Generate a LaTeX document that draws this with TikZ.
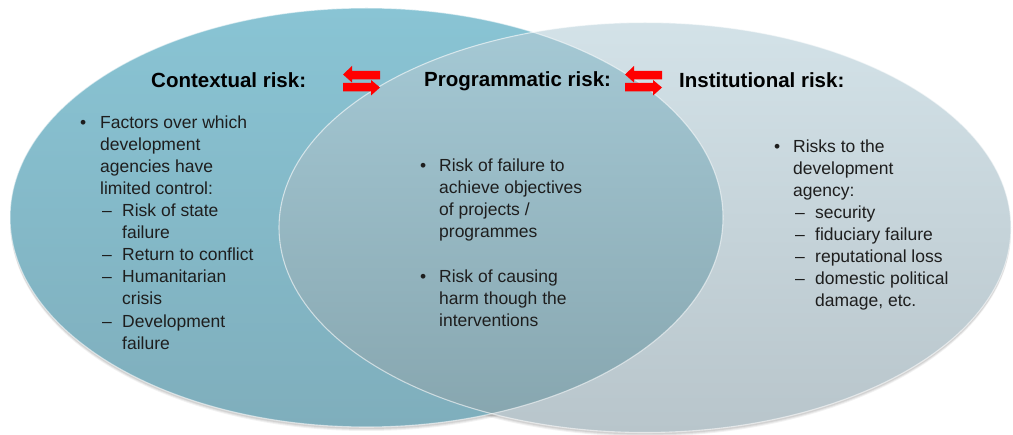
\documentclass[tikz,border=0pt]{standalone}
\usepackage{fontspec}
\setmainfont{Liberation Sans}
\definecolor{leftTop}{HTML}{89C4D4}
\definecolor{leftBot}{HTML}{7FAEBC}
\definecolor{rightTop}{HTML}{D3E2E8}
\definecolor{rightBot}{HTML}{B8C5CB}
\definecolor{ovTop}{HTML}{A5C9D5}
\definecolor{ovBot}{HTML}{86A5AE}
\definecolor{bodygray}{HTML}{1E1E1E}
\definecolor{arrowred}{HTML}{FF0000}
\tikzset{
  heading/.style={anchor=base west, inner sep=0pt, font=\fontsize{20.5}{24}\selectfont\bfseries, text=black},
  bodyline/.style={anchor=base west, inner sep=0pt, font=\fontsize{17.5}{22}\selectfont, text=bodygray},
  bulletmark/.style={anchor=base west, inner sep=0pt, font=\fontsize{17.5}{22}\selectfont, text=bodygray},
  redarrow/.style={fill=arrowred, draw=none},
  rim/.style={draw=white, draw opacity=0.55, line width=1.1pt}
}
\begin{document}
\begin{tikzpicture}[x=1pt,y=-1pt]
\useasboundingbox (0,0) rectangle (1013,435);
\fill[white] (0,0) rectangle (1013,435);
% soft shadows
\foreach \d/\o in {4/0.05,3/0.06,2/0.07}{
  \fill[black,opacity=\o] (366.5,217.5+\d) ellipse [x radius=356.5pt, y radius=209.5pt];
  \fill[black,opacity=\o] (645,227.5+\d) ellipse [x radius=366pt, y radius=205pt];
}
% left ellipse (contextual)
\shade[top color=leftTop, bottom color=leftBot] (366.5,217.5) ellipse [x radius=356.5pt, y radius=209.5pt];
% right ellipse (institutional)
\shade[top color=rightTop, bottom color=rightBot] (645,227.5) ellipse [x radius=366pt, y radius=205pt];
% overlap (programmatic)
\begin{scope}
  \clip (366.5,217.5) ellipse [x radius=356.5pt, y radius=209.5pt];
  \shade[top color=ovTop, bottom color=ovBot] (645,227.5) ellipse [x radius=366pt, y radius=205pt];
\end{scope}
% rims
\draw[rim] (366.5,217.5) ellipse [x radius=356.5pt, y radius=209.5pt];
\draw[rim] (645,227.5) ellipse [x radius=366pt, y radius=205pt];

% headings
\node[heading] (ctx) at (151,88) {Contextual risk:};
\node[heading] (prog) at (424,87) {Programmatic risk:};
\node[heading] (inst) at (679,88) {Institutional risk:};

% double arrows
\foreach \ax in {343,625}{
  % upper arrow pointing left
  \fill[redarrow] (\ax,74.5) -- (\ax+9,66) -- (\ax+9,71) -- (\ax+37,71) -- (\ax+37,79.5) -- (\ax+9,79.5) -- (\ax+9,82.5) -- cycle;
  % lower arrow pointing right
  \fill[redarrow] (\ax+37,87.5) -- (\ax+28,80) -- (\ax+28,83) -- (\ax,83) -- (\ax,91.5) -- (\ax+28,91.5) -- (\ax+28,95.5) -- cycle;
}

% contextual body
\node[bulletmark] (cb1) at (80,129) {•};
\node[bodyline] (c1) at (100,129) {Factors over which};
\node[bodyline] (c2) at (100,151) {development};
\node[bodyline] (c3) at (100,173) {agencies have};
\node[bodyline] (c4) at (100,195) {limited control:};
\node[bodyline] (cd1) at (102,217) {–};
\node[bodyline] (c5) at (122,217) {Risk of state};
\node[bodyline] (c6) at (122,239) {failure};
\node[bodyline] (cd2) at (102,261) {–};
\node[bodyline] (c7) at (122,261) {Return to conflict};
\node[bodyline] (cd3) at (102,283) {–};
\node[bodyline] (c8) at (122,283) {Humanitarian};
\node[bodyline] (c9) at (122,305) {crisis};
\node[bodyline] (cd4) at (102,328) {–};
\node[bodyline] (c10) at (122,328) {Development};
\node[bodyline] (c11) at (122,350) {failure};

% programmatic body
\node[bulletmark] (pb1) at (420,172) {•};
\node[bodyline] (p1) at (439,172) {Risk of failure to};
\node[bodyline] (p2) at (439,194) {achieve objectives};
\node[bodyline] (p3) at (439,216) {of projects /};
\node[bodyline] (p4) at (439,238) {programmes};
\node[bulletmark] (pb2) at (420,283) {•};
\node[bodyline] (p5) at (439,283) {Risk of causing};
\node[bodyline] (p6) at (439,305) {harm though the};
\node[bodyline] (p7) at (439,327) {interventions};

% institutional body
\node[bulletmark] (ib1) at (774,153) {•};
\node[bodyline] (i1) at (793,153) {Risks to the};
\node[bodyline] (i2) at (793,175) {development};
\node[bodyline] (i3) at (793,197) {agency:};
\node[bodyline] (id1) at (795,219) {–};
\node[bodyline] (i4) at (815,219) {security};
\node[bodyline] (id2) at (795,241) {–};
\node[bodyline] (i5) at (815,241) {fiduciary failure};
\node[bodyline] (id3) at (795,263) {–};
\node[bodyline] (i6) at (815,263) {reputational loss};
\node[bodyline] (id4) at (795,285) {–};
\node[bodyline] (i7) at (815,285) {domestic political};
\node[bodyline] (i8) at (815,307) {damage, etc.};
\end{tikzpicture}
\end{document}
